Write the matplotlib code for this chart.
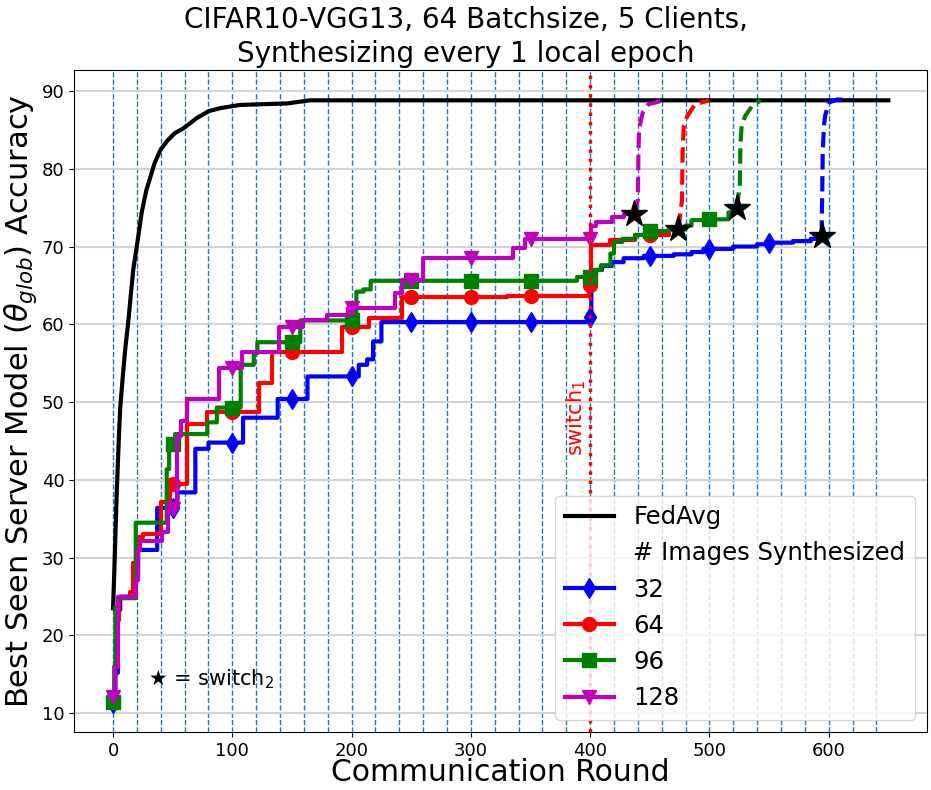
import numpy as np
import matplotlib
matplotlib.use("Agg")
import matplotlib.pyplot as plt

# FedAvg baseline
fedavg_rounds = [0, 1, 2, 3, 4, 5, 6, 8, 10, 13, 15, 17, 20, 24, 28, 35, 40, 46, 52, 59, 70, 80, 90, 106, 125, 146, 165, 650]
fedavg_acc = [23.5, 28, 33, 38, 42, 46, 49.2, 53, 56.5, 60.7, 64, 67.1, 70.1, 74.4, 77.3, 80.8, 82.5, 83.7, 84.6, 85.2, 86.5, 87.4, 87.8, 88.2, 88.3, 88.4, 88.8, 88.8]

# best-seen accuracy breakpoints (round, acc) up to switch_2
blue_rounds = [0, 2, 4, 6, 19, 21, 37, 54, 69, 80, 109, 138, 163, 206, 213, 218, 225, 399, 401, 405, 410, 418, 428, 445, 470, 485, 495, 520, 540, 548, 570, 585, 594]
blue_acc = [11.3, 15.2, 23.3, 25.0, 27.6, 31.0, 36.4, 38.4, 44.0, 44.8, 48.0, 50.4, 53.3, 54.8, 55.5, 57.8, 60.3, 61.0, 66.5, 67.0, 67.5, 68.0, 68.5, 68.8, 69.0, 69.3, 69.7, 70.0, 70.3, 70.5, 70.7, 71.0, 71.4]

red_rounds = [0, 2, 3, 5, 14, 17, 21, 25, 40, 48, 62, 79, 122, 133, 192, 215, 242, 330, 399, 401, 417, 438, 466, 474]
red_acc = [11.6, 16.0, 22.0, 24.8, 25.6, 29.3, 32.7, 33.1, 37.1, 39.5, 47.2, 48.7, 52.5, 56.5, 59.7, 60.8, 63.5, 63.7, 65.1, 70.2, 70.8, 71.5, 72.1, 72.3]

green_rounds = [0, 1, 2, 4, 19, 45, 47, 52, 79, 87, 107, 118, 121, 157, 204, 210, 216, 389, 401, 409, 417, 420, 427, 438, 450, 466, 480, 485, 500, 516, 523]
green_acc = [11.5, 16.0, 23.7, 24.8, 34.5, 41.4, 44.6, 45.9, 47.4, 49.3, 54.8, 56.3, 57.7, 60.5, 64.2, 64.5, 65.6, 66.1, 67.0, 67.6, 69.1, 70.6, 71.0, 71.5, 72.0, 72.3, 72.7, 73.4, 73.5, 74.4, 75.0]

magenta_rounds = [0, 2, 4, 19, 21, 23, 41, 46, 54, 57, 62, 89, 108, 139, 159, 179, 197, 236, 242, 260, 335, 345, 401, 405, 418, 428, 437]
magenta_acc = [12.1, 16.0, 25.0, 27.1, 31.0, 32.2, 33.3, 36.3, 45.7, 47.6, 50.4, 54.4, 56.5, 59.7, 60.5, 61.2, 62.1, 64.0, 65.7, 68.5, 69.8, 71.0, 72.7, 73.2, 73.8, 74.2, 74.2]

# after switch_2 (dashed)
blue_dash_r = [594, 594.5, 595, 596, 597, 600, 607, 618]
blue_dash_a = [71.4, 76, 82, 85.5, 86.8, 88.5, 88.9, 88.9]
red_dash_r = [474, 477, 477.5, 478.5, 481.5, 488, 500]
red_dash_a = [72.3, 76, 82, 85.5, 86.8, 88.3, 88.8]
green_dash_r = [523, 525.5, 526, 527, 530, 536, 543]
green_dash_a = [75.0, 78, 83, 85.5, 86.8, 88.1, 88.8]
magenta_dash_r = [437, 440, 440.5, 441, 444, 449, 459]
magenta_dash_a = [74.2, 76, 82, 85, 87.2, 88.3, 88.7]

labels = ["32", "64", "96", "128"]
colors = ["b", "r", "g", "m"]
markers = ["d", "o", "s", "v"]


def per_round(rounds, acc):
    # hold each best-seen value until the next breakpoint
    r = np.arange(rounds[0], rounds[-1] + 1)
    idx = np.searchsorted(rounds, r, side="right") - 1
    return r, np.array(acc)[idx]


fig = plt.figure(figsize=(9.31, 7.9), dpi=100)
ax = fig.add_axes([0.0798, 0.0735, 0.916, 0.8379])

for xv in range(0, 641, 20):
    ax.axvline(xv, color="#1f77b4", linestyle="--", linewidth=1, zorder=0)
ax.yaxis.grid(True, color="lightgray", linewidth=1.5, zorder=0)

ax.plot(fedavg_rounds, fedavg_acc, color="k", linewidth=3, label="FedAvg", zorder=2)
ax.plot([], [], " ", label="# Images Synthesized")

series = [(blue_rounds, blue_acc, blue_dash_r, blue_dash_a),
          (red_rounds, red_acc, red_dash_r, red_dash_a),
          (green_rounds, green_acc, green_dash_r, green_dash_a),
          (magenta_rounds, magenta_acc, magenta_dash_r, magenta_dash_a)]

for (rr, aa, dr, da), lab, c, mk in zip(series, labels, colors, markers):
    r, v = per_round(rr, aa)
    ax.plot(r, v, color=c, linewidth=3, drawstyle="steps-post", marker=mk,
            markersize=10, markevery=50, label=lab, zorder=3)
    ax.plot(dr, da, color=c, linewidth=3, linestyle="--", zorder=3)

for (rr, aa, dr, da) in series:
    ax.plot(rr[-1], aa[-1], marker="*", color="k", markersize=20, linestyle="none", zorder=5)

ax.axvline(400, color="r", linestyle=":", linewidth=2.5, zorder=4)
ax.text(388, 48, "switch$_1$", color="r", rotation=90, fontsize=15,
        ha="center", va="center")
ax.text(29, 14.4, "★ = switch$_2$", fontsize=15, ha="left", va="center")

ax.set_xlim(-32.5, 682.5)
ax.set_ylim(7.6, 92.7)
ax.set_xticks(range(0, 601, 100))
ax.set_yticks(range(10, 91, 10))
ax.tick_params(labelsize=13)

ax.set_xlabel("Communication Round", fontsize=21.5, labelpad=-1)
ax.set_ylabel(r"Best Seen Server Model ($\theta_{glob}$) Accuracy", fontsize=22, labelpad=2)
fig.suptitle("CIFAR10-VGG13, 64 Batchsize, 5 Clients,\nSynthesizing every 1 local epoch",
             fontsize=20, x=0.5, y=0.993, va="top", linespacing=1.3)

ax.legend(loc="lower right", fontsize=17.5)

fig.savefig("out.png", dpi=100)
